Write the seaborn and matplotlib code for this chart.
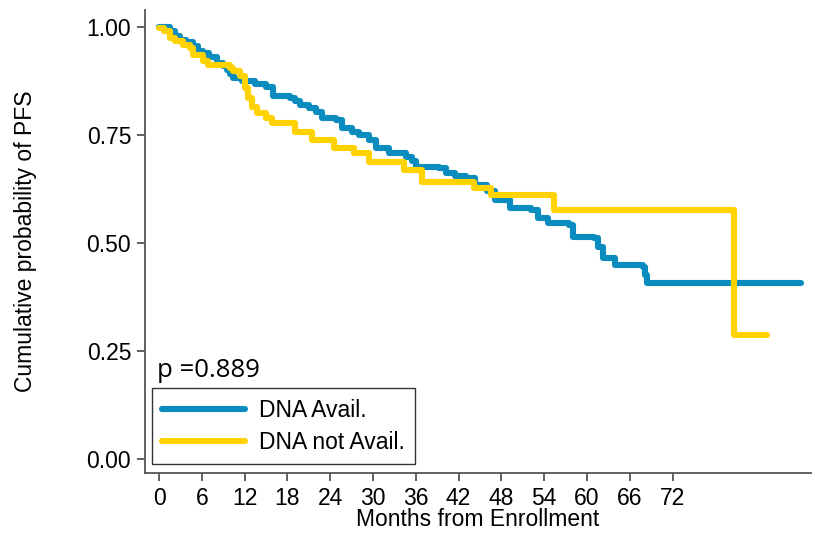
import matplotlib
matplotlib.use("Agg")
import matplotlib.pyplot as plt
import seaborn as sns
import pandas as pd

# Kaplan-Meier step points (months, survival)
avail_t = [0, 1.6, 2.2, 3.0, 3.8, 4.7, 5.5, 6.1, 7.0, 8.1, 9.0, 9.5, 9.9, 10.3, 11.7, 13.5,
           15.0, 16.0, 18.3, 19.0, 19.7, 21.0, 22.0, 22.9, 24.8, 25.7, 27.0, 28.0, 29.4,
           30.4, 32.2, 34.6, 35.5, 36.0, 39.2, 40.2, 41.5, 43.0, 44.3, 46.0, 47.1, 49.2,
           52.2, 53.1, 54.5, 57.5, 58.0, 61.0, 61.5, 62.2, 63.9, 67.8, 68.1, 68.4, 90.0]
avail_s = [1.0, 0.99, 0.98, 0.97, 0.965, 0.955, 0.945, 0.94, 0.93, 0.917, 0.91, 0.9, 0.89,
           0.882, 0.875, 0.868, 0.86, 0.84, 0.835, 0.828, 0.82, 0.812, 0.803, 0.79, 0.785,
           0.766, 0.757, 0.75, 0.738, 0.72, 0.708, 0.70, 0.69, 0.676, 0.674, 0.662, 0.655,
           0.65, 0.634, 0.62, 0.60, 0.581, 0.576, 0.558, 0.546, 0.542, 0.514, 0.512, 0.49,
           0.465, 0.449, 0.445, 0.425, 0.407, 0.407]

notavail_t = [0, 0.7, 1.5, 2.3, 3.4, 4.3, 4.7, 6.1, 6.8, 9.9, 10.3, 11.3, 12.0, 12.5, 13.0,
              13.7, 15.0, 15.8, 19.0, 21.5, 24.5, 27.3, 29.4, 34.3, 36.8, 44.1, 46.6, 55.4,
              80.6, 85.2]
notavail_s = [0.998, 0.99, 0.975, 0.968, 0.958, 0.951, 0.935, 0.92, 0.912, 0.905, 0.898,
              0.887, 0.859, 0.835, 0.815, 0.80, 0.789, 0.778, 0.757, 0.738, 0.72, 0.708,
              0.688, 0.669, 0.641, 0.627, 0.611, 0.576, 0.287, 0.287]

groups = ["DNA Avail.", "DNA not Avail."]
colors = ["#0a8cbf", "#ffd200"]
x_ticks = list(range(0, 73, 6))
y_ticks = [0.0, 0.25, 0.5, 0.75, 1.0]
p_text = "p =0.889"

df = pd.concat([
    pd.DataFrame({"t": avail_t, "s": avail_s, "g": groups[0]}),
    pd.DataFrame({"t": notavail_t, "s": notavail_s, "g": groups[1]}),
], ignore_index=True)

sns.set_style("white")
plt.rcParams["font.family"] = ["Liberation Sans", "DejaVu Sans"]
plt.rcParams["text.color"] = "black"
plt.rcParams["axes.labelcolor"] = "black"
plt.rcParams["xtick.color"] = "black"
plt.rcParams["ytick.color"] = "black"

FS = 16.5

fig = plt.figure(figsize=(8.15, 5.33), dpi=100)
ax = fig.add_axes([0.178, 0.1126, 0.817, 0.8685])

sns.lineplot(data=df, x="t", y="s", hue="g", palette=dict(zip(groups, colors)),
             drawstyle="steps-post", sort=False, estimator=None, linewidth=4.4,
             ax=ax, legend=True)

ax.set_xlim(-1.96, 91.4)
ax.set_ylim(-0.0324, 1.039)
ax.set_xticks(x_ticks)
ax.set_xticklabels([str(v) for v in x_ticks])
ax.set_yticks(y_ticks)
ax.set_yticklabels([f"{v:.2f}" for v in y_ticks])

for side in ["top", "right"]:
    ax.spines[side].set_visible(False)
for side in ["left", "bottom"]:
    ax.spines[side].set_color("#555555")
    ax.spines[side].set_linewidth(1.3)

ax.tick_params(axis="both", which="major", direction="out", length=6, width=1.2,
               color="#444444", labelcolor="black", labelsize=FS, pad=4,
               left=True, bottom=True)
ax.set_xlabel("Months from Enrollment", fontsize=FS, labelpad=-1, color="black")
ax.set_ylabel("Cumulative probability of PFS", fontsize=FS, labelpad=36, color="black")

ax.text(-0.3, 0.205, p_text, fontsize=18.5, va="center", ha="left", color="black",
        family=["Open Sans", "DejaVu Sans"])

leg = ax.legend(loc="lower left", bbox_to_anchor=(0.0105, 0.0194), borderaxespad=0,
                frameon=True, fancybox=False, edgecolor="black", fontsize=FS,
                handlelength=3.6, handletextpad=0.6, labelspacing=0.4, borderpad=0.45,
                title=None)
leg.get_frame().set_linewidth(1.0)
for line in leg.get_lines():
    line.set_linewidth(4.4)
for txt in leg.get_texts():
    txt.set_color("black")

fig.savefig("out.png", dpi=100)
